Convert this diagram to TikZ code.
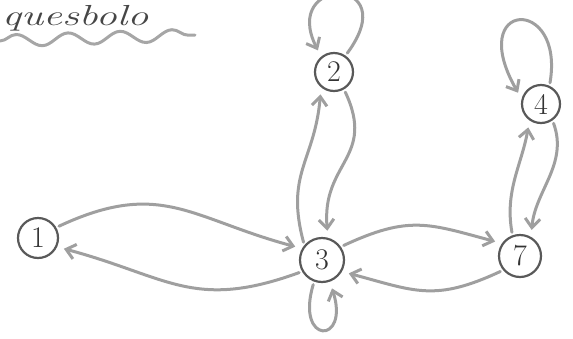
\documentclass[tikz,border=0pt]{standalone}
\usepackage{tikz}
\usetikzlibrary{arrows.meta,decorations.pathmorphing}

\begin{document}
\begin{tikzpicture}[
  x=1pt,y=-1pt,
  state/.style={draw=gray!70!black,circle,line width=2.2pt,minimum size=40pt,
                inner sep=0pt,font=\fontsize{30}{32}\selectfont,text=gray!40!black},
  arr/.style={-{Straight Barb[length=9pt,width=15pt]},line width=3pt,
              draw=gray!75,line cap=round,shorten <=3pt,shorten >=7pt}
]
\useasboundingbox (0,0) rectangle (573,338);
% title
\node[anchor=base west,font=\fontsize{29}{31}\itshape,text=gray!55!black,
      inner sep=0pt] (title) at (2,25) {\scalebox{1.45}[1]{quesbolo}};
\draw[gray!70,line width=3pt,line cap=round,
      decorate,decoration={snake,amplitude=6pt,segment length=52pt}]
  (title.base west) ++(-2,16) coordinate (w0) -- ++(195,-6) coordinate (w1);
% states
\node[state] (n1) at (38,238) {1};
\node[state,minimum size=44pt] (n3) at (322,260) {3};
\node[state,minimum size=38pt] (n2) at (334,72) {2};
\node[state,minimum size=38pt] (n4) at (541,104) {4};
\node[state,minimum size=42pt] (n7) at (520,256) {7};
% edges
\draw[arr] (n1.30) to[out=25,in=165,looseness=1.2] (n3.150);
\draw[arr] (n3.210) to[out=200,in=-15,looseness=1.2] (n1.-25);
\draw[arr] (n3.140) to[out=105,in=-95,looseness=1.2] (n2.230);
\draw[arr] (n2.-60) to[out=-65,in=95,looseness=1.3] (n3.75);
\draw[arr] (n3.35) to[out=25,in=165,looseness=1.2] (n7.145);
\draw[arr] (n7.220) to[out=205,in=-15,looseness=1.2] (n3.-30);
\draw[arr] (n7.110) to[out=100,in=-100] (n4.-125);
\draw[arr] (n4.-55) to[out=-70,in=85] (n7.60);
% loops
\draw[arr] (n2.55) .. controls (405,-25) and (280,-25) .. (n2.130);
\draw[arr] (n4.65) .. controls (565,-5) and (465,0) .. (n4.165);
\draw[arr] (n3.250) .. controls (295,345) and (350,345) .. (n3.290);
\end{tikzpicture}
\end{document}
